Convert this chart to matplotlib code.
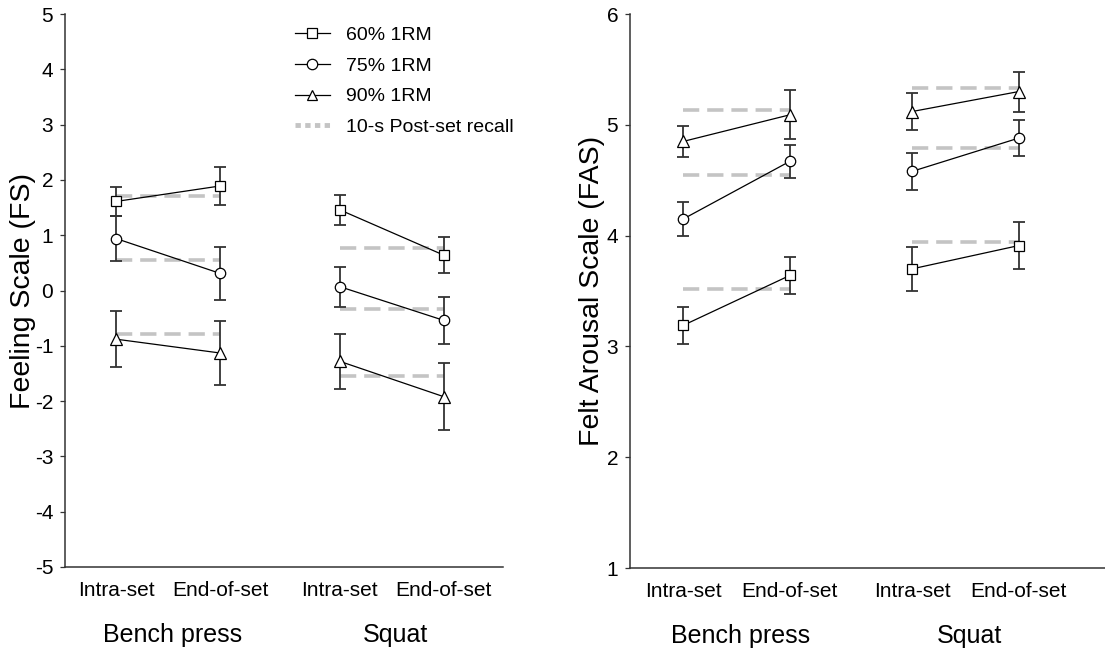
import matplotlib
matplotlib.use("Agg")
import matplotlib.pyplot as plt
from matplotlib.lines import Line2D
import matplotlib.transforms as mtransforms

plt.rcParams['font.family'] = ['Liberation Sans', 'DejaVu Sans']
plt.rcParams['axes.unicode_minus'] = False

# datos
momentos = ['Intra-set', 'End-of-set', 'Intra-set', 'End-of-set']
ejercicios = ['Bench press', 'Squat']
cargas = ['60% 1RM', '75% 1RM', '90% 1RM']

fs_60 = [1.61, 1.89, 1.46, 0.64]
fs_75 = [0.94, 0.31, 0.07, -0.54]
fs_90 = [-0.88, -1.13, -1.28, -1.92]
fs_60_err = [0.27, 0.34, 0.27, 0.32]
fs_75_err = [0.40, 0.48, 0.36, 0.42]
fs_90_err = [0.51, 0.57, 0.50, 0.61]
fs_recall_60 = [1.70, 0.77]
fs_recall_75 = [0.55, -0.33]
fs_recall_90 = [-0.78, -1.54]

fas_60 = [3.19, 3.64, 3.70, 3.91]
fas_75 = [4.15, 4.67, 4.58, 4.88]
fas_90 = [4.85, 5.09, 5.12, 5.30]
fas_60_err = [0.17, 0.17, 0.20, 0.21]
fas_75_err = [0.15, 0.15, 0.17, 0.16]
fas_90_err = [0.14, 0.22, 0.17, 0.18]
fas_recall_60 = [3.52, 3.94]
fas_recall_75 = [4.55, 4.79]
fas_recall_90 = [5.13, 5.33]

# posiciones en x: dos momentos por ejercicio, con hueco entre ejercicios
xpos = [0, 1, 2.15, 3.15]
marcadores = ['s', 'o', '^']
GRIS = '#c4c4c4'
EJE = '#333333'


def graficar_panel(ax, medias, errores, recall, ylim, ylabel, xlim):
    for j in range(2):
        x0, x1 = xpos[2 * j], xpos[2 * j + 1]
        for rec in recall:
            ax.plot([x0, x1], [rec[j], rec[j]], color=GRIS, lw=2.6,
                    dashes=(4.5, 2.2), zorder=1, dash_capstyle='butt')
        for m, e, mk in zip(medias, errores, marcadores):
            xs = [x0, x1]
            ys = [m[2 * j], m[2 * j + 1]]
            es = [e[2 * j], e[2 * j + 1]]
            ax.errorbar(xs, ys, yerr=es, fmt='none', ecolor=EJE,
                        elinewidth=1.3, capsize=4, capthick=1.3, zorder=2)
            ax.plot(xs, ys, color='black', lw=0.9, marker=mk,
                    markersize=8 if mk == '^' else 7.5 if mk == 'o' else 7,
                    markerfacecolor='white', markeredgecolor='black',
                    markeredgewidth=0.9, zorder=3)

    ax.set_xlim(*xlim)
    ax.set_ylim(*ylim)
    ax.set_yticks(range(ylim[0], ylim[1] + 1))
    ax.set_xticks(xpos)
    ax.set_xticklabels(momentos, fontsize=15)
    ax.tick_params(axis='x', length=0, pad=10)
    ax.tick_params(axis='y', length=3.5, width=0.9, color=EJE, labelsize=15, pad=5)
    ax.spines['top'].set_visible(False)
    ax.spines['right'].set_visible(False)
    for s in ['left', 'bottom']:
        ax.spines[s].set_color(EJE)
        ax.spines[s].set_linewidth(1.1)
    ax.set_ylabel(ylabel, fontsize=20.5)

    trans = mtransforms.blended_transform_factory(ax.transData, ax.transAxes)
    for j, nombre in enumerate(ejercicios):
        xc = (xpos[2 * j] + xpos[2 * j + 1]) / 2 + 0.04
        ax.text(xc, -0.123, nombre, transform=trans, ha='center', va='center',
                fontsize=18)


fig = plt.figure(figsize=(11.05, 6.59), dpi=100)
ax1 = fig.add_axes([65 / 1105, 1 - 567 / 659, 438 / 1105, 553 / 659])
ax2 = fig.add_axes([630 / 1105, 1 - 568 / 659, 475 / 1105, 554 / 659])

graficar_panel(ax1, [fs_60, fs_75, fs_90], [fs_60_err, fs_75_err, fs_90_err],
               [fs_recall_60, fs_recall_75, fs_recall_90], (-5, 5),
               'Feeling Scale (FS)', (-0.49, 3.72))
graficar_panel(ax2, [fas_60, fas_75, fas_90], [fas_60_err, fas_75_err, fas_90_err],
               [fas_recall_60, fas_recall_75, fas_recall_90], (1, 6),
               'Felt Arousal Scale (FAS)', (-0.50, 3.96))
ax1.yaxis.set_label_coords(-0.067, 0.5)
ax2.yaxis.set_label_coords(-0.053, 0.5)

handles = [Line2D([], [], color='black', lw=0.9, marker=mk, markersize=7.5,
                  markerfacecolor='white', markeredgecolor='black',
                  markeredgewidth=0.9) for mk in marcadores]
handles.append(Line2D([], [], color=GRIS, lw=3.5, dashes=(1.1, 0.9)))
ax1.legend(handles, cargas + ['10-s Post-set recall'], loc='upper left',
           bbox_to_anchor=(0.525, 0.978), frameon=False, fontsize=14,
           handlelength=1.8, handletextpad=0.8, labelspacing=0.68,
           borderpad=0, borderaxespad=0)

fig.savefig('out.png', dpi=100)
